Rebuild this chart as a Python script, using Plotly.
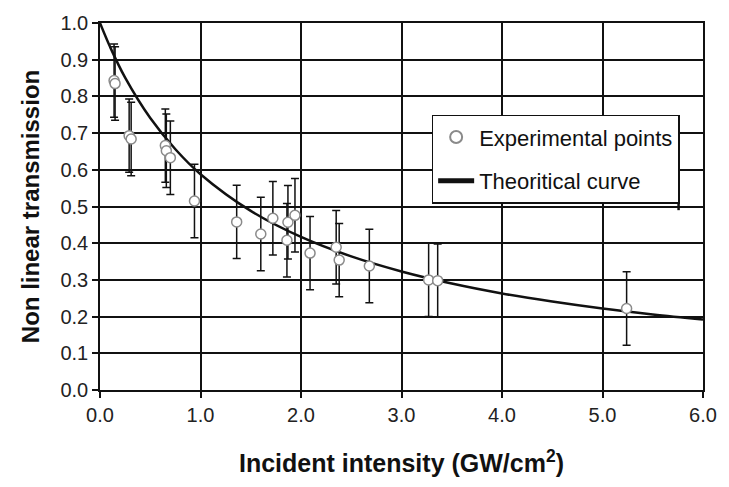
import plotly.graph_objects as go

# Experimental points
intensity_pts = [0.14, 0.15, 0.29, 0.31, 0.65, 0.66, 0.70, 0.94, 1.36, 1.60, 1.72,
                 1.86, 1.87, 1.94, 2.09, 2.35, 2.38, 2.68, 3.27, 3.36, 5.24]
transmission_pts = [0.843, 0.835, 0.693, 0.684, 0.666, 0.652, 0.633, 0.515, 0.458,
                    0.425, 0.468, 0.408, 0.457, 0.476, 0.373, 0.389, 0.354, 0.338,
                    0.300, 0.298, 0.222]
error_pts = [0.10] * len(intensity_pts)

# Theoretical curve
intensity_curve = [0.0, 0.1, 0.25, 0.5, 0.75, 1.0, 1.5, 2.0, 2.5, 3.0, 3.5, 4.0,
                   4.5, 5.0, 5.5, 6.0]
transmission_curve = [1.0, 0.935, 0.851, 0.741, 0.656, 0.588, 0.488, 0.417, 0.364,
                      0.323, 0.290, 0.263, 0.241, 0.222, 0.206, 0.192]

x_ticks = [0, 1, 2, 3, 4, 5, 6]
x_ticklabels = ["0.0", "1.0", "2.0", "3.0", "4.0", "5.0", "6.0"]
y_ticks = [0.0, 0.1, 0.2, 0.3, 0.4, 0.5, 0.6, 0.7, 0.8, 0.9, 1.0]
y_ticklabels = ["0.0", "0.1", "0.2", "0.3", "0.4", "0.5", "0.6", "0.7", "0.8", "0.9", "1.0"]

FONT = "Liberation Sans, Arial, sans-serif"

fig = go.Figure()

fig.add_trace(go.Scatter(
    x=intensity_curve, y=transmission_curve, mode="lines",
    line=dict(color="#111111", width=2.5, shape="spline"),
    name="Theoritical curve", legendrank=2, legendgroup="curve",
))

fig.add_trace(go.Scatter(
    x=intensity_pts, y=transmission_pts, mode="markers",
    marker=dict(symbol="circle", size=10, color="white",
                line=dict(color="#8a8a8a", width=1.5)),
    error_y=dict(type="data", array=error_pts, visible=True,
                 color="#111111", thickness=1.5, width=4),
    name="Experimental points", legendrank=1, legendgroup="points",
))

axis_common = dict(
    showline=True, linecolor="#111111", linewidth=1.5, mirror=True,
    showgrid=True, gridcolor="#111111", gridwidth=1.5,
    ticks="outside", ticklen=6, tickcolor="#111111", tickwidth=1.5,
    zeroline=False,
    tickfont=dict(family=FONT, size=20, color="#222222"),
)

fig.update_xaxes(
    range=[0, 6], tickvals=x_ticks, ticktext=x_ticklabels,
    title=dict(text="<b>Incident intensity (GW/cm<sup>2</sup>)</b>",
               font=dict(family=FONT, size=25, color="#111111"), standoff=30),
    **axis_common,
)
fig.update_yaxes(
    range=[0, 1.0], tickvals=y_ticks, ticktext=y_ticklabels,
    title=dict(text="<b>Non linear transmission</b>",
               font=dict(family=FONT, size=24, color="#111111"), standoff=14),
    **axis_common,
)

fig.update_layout(
    width=729, height=487,
    margin=dict(l=100, r=25, t=20, b=97),
    paper_bgcolor="white", plot_bgcolor="white",
    font=dict(family=FONT, color="#111111"),
    showlegend=True,
    legend=dict(
        x=0.55, y=0.75, xanchor="left", yanchor="top",
        bgcolor="white", bordercolor="#111111", borderwidth=1.5,
        font=dict(family=FONT, size=22, color="#111111"),
        itemsizing="constant", itemwidth=36, tracegroupgap=12,
    ),
)

# legend shadow on the right side
fig.add_shape(type="line", xref="paper", yref="paper",
              x0=0.9595, x1=0.9595, y0=0.49, y1=0.725,
              line=dict(color="#111111", width=2.5))

fig.write_html("out.html")
